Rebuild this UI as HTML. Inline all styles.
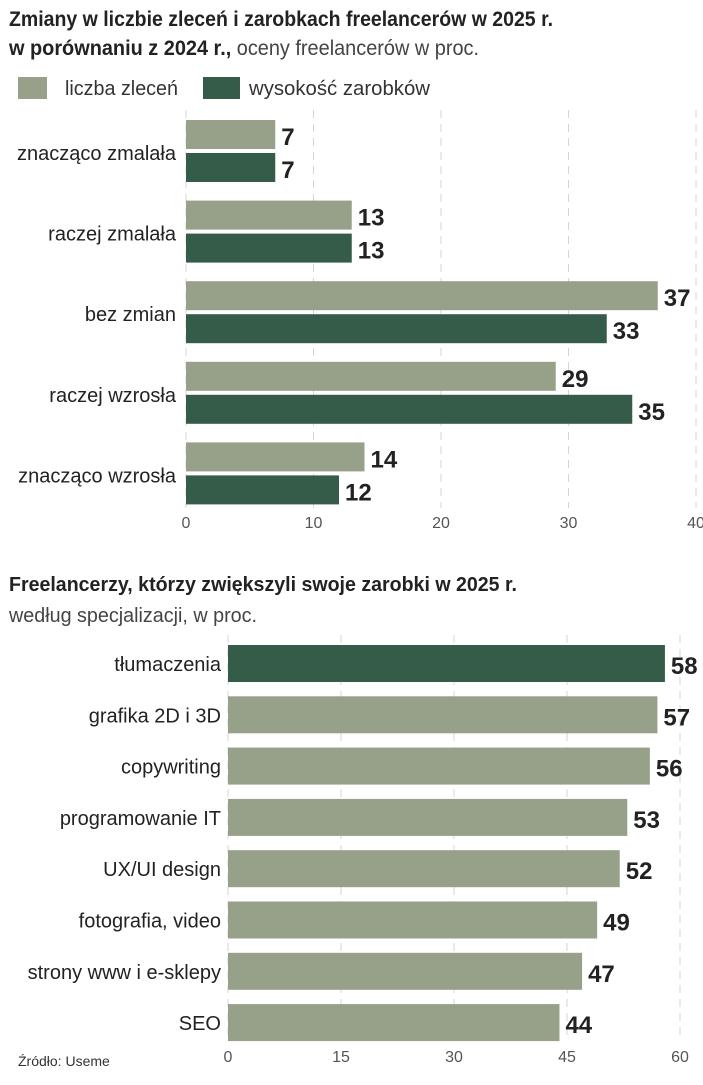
<!DOCTYPE html>
<html><head><meta charset="utf-8">
<style>
html,body{margin:0;padding:0;background:#fff;}
body{width:703px;height:1080px;overflow:hidden;}
svg text{font-family:"Liberation Sans Narrow","Liberation Sans",sans-serif;}
</style></head>
<body>
<svg id="c" width="703" height="1080" viewBox="0 0 703 1080">
<text x="9" y="26" font-size="21" font-weight="bold" fill="#222" textLength="544" lengthAdjust="spacingAndGlyphs">Zmiany w liczbie zleceń i zarobkach freelancerów w 2025 r.</text>
<text x="9" y="55" font-size="21" fill="#222" textLength="470" lengthAdjust="spacingAndGlyphs"><tspan font-weight="bold">w porównaniu z 2024 r.,</tspan><tspan font-weight="normal" fill="#444"> oceny freelancerów w proc.</tspan></text>
<rect x="18" y="77" width="29" height="22" fill="#97a088"/>
<text x="65" y="95" font-size="20" fill="#333" textLength="113" lengthAdjust="spacingAndGlyphs">liczba zleceń</text>
<rect x="203" y="77" width="37" height="22" fill="#355c48"/>
<text x="249" y="95" font-size="20" fill="#333" textLength="181" lengthAdjust="spacingAndGlyphs">wysokość zarobków</text>
<text x="9" y="591" font-size="20" font-weight="bold" fill="#222" textLength="508" lengthAdjust="spacingAndGlyphs">Freelancerzy, którzy zwiększyli swoje zarobki w 2025 r.</text>
<text x="9" y="622" font-size="20" fill="#444" textLength="248" lengthAdjust="spacingAndGlyphs">według specjalizacji, w proc.</text>
<text x="18" y="1066" font-size="14" fill="#333">Źródło: Useme</text>
<g id="g1"></g><g id="g2"></g>
</svg>
<script>
const cats1 = ["znacząco zmalała","raczej zmalała","bez zmian","raczej wzrosła","znacząco wzrosła"];
const zlecenia = [7,13,37,29,14];
const zarobki = [7,13,33,35,12];
const ticks1 = [0,10,20,30,40];
const cats2 = ["tłumaczenia","grafika 2D i 3D","copywriting","programowanie IT","UX/UI design","fotografia, video","strony www i e-sklepy","SEO"];
const vals2 = [58,57,56,53,52,49,47,44];
const ticks2 = [0,15,30,45,60];

const NS="http://www.w3.org/2000/svg";
function mk(parent,tag,attrs,text){const e=document.createElementNS(NS,tag);for(const k in attrs)e.setAttribute(k,attrs[k]);if(text!==undefined)e.textContent=text;parent.appendChild(e);return e;}

// chart 1
const g1=document.getElementById('g1');
const x1=v=>186+v*(696-186)/40;
const y1=i=>120+i*80.6;
ticks1.forEach(t=>{
  const l=mk(g1,'line',{x1:x1(t),x2:x1(t),y1:110,y2:508,stroke:'#d4d4d4','stroke-width':1,'stroke-dasharray':'8,6'});
  
  
  const tx=mk(g1,'text',{x:x1(t),y:528,'font-size':16,fill:'#555','text-anchor':'middle'},t);
  
  
});
cats1.forEach((c,i)=>{
  const y=y1(i);
  const lb=mk(g1,'text',{x:176,y:y+40,'font-size':20,fill:'#222','text-anchor':'end'},c);
  
  
  [[zlecenia[i],'#97a088',0,'bar-zlecenia'],[zarobki[i],'#355c48',33,'bar-zarobki']].forEach(([v,col,dy,nm])=>{
    const r=mk(g1,'rect',{x:x1(0),y:y+dy,width:x1(v)-x1(0),height:29,fill:col});
    
    
    const t=mk(g1,'text',{x:x1(v)+6,y:y+dy+25,'font-size':24,'font-weight':'bold',fill:'#222'},v);
    
    
  });
});

// chart 2
const g2=document.getElementById('g2');
const x2=v=>228+v*(680-228)/60;
const y2=i=>645+i*51.3;
ticks2.forEach(t=>{
  const l=mk(g2,'line',{x1:x2(t),x2:x2(t),y1:635,y2:1040,stroke:'#d4d4d4','stroke-width':1,'stroke-dasharray':'8,6'});
  
  
  const tx=mk(g2,'text',{x:x2(t),y:1062,'font-size':16,fill:'#555','text-anchor':'middle'},t);
  
  
});
cats2.forEach((c,i)=>{
  const y=y2(i);
  const lb=mk(g2,'text',{x:221,y:y+26,'font-size':20,fill:'#222','text-anchor':'end'},c);
  
  
  const r=mk(g2,'rect',{x:x2(0),y:y,width:x2(vals2[i])-x2(0),height:37,fill:i===0?'#355c48':'#97a088'});
  
  
  const t=mk(g2,'text',{x:x2(vals2[i])+6,y:y+29,'font-size':24,'font-weight':'bold',fill:'#222'},vals2[i]);
  
  
});
</script>
</body></html>
